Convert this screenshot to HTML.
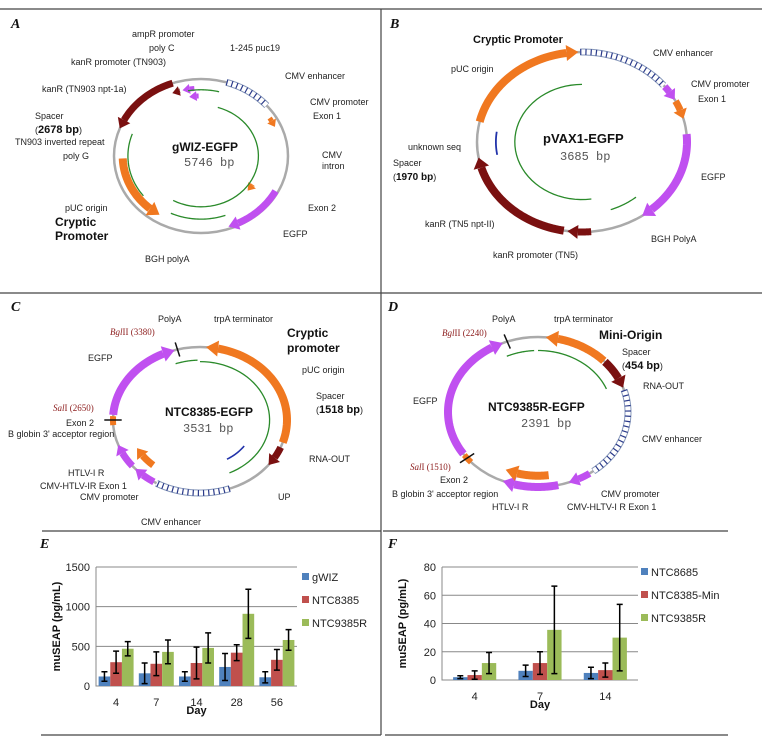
<!DOCTYPE html>
<html><head><meta charset="utf-8">
<style>
html,body{margin:0;padding:0;background:#fff;}
svg{display:block;font-family:"Liberation Sans",Arial,sans-serif;}
.l{font-size:9px;fill:#222;}
.b{font-weight:bold;fill:#111;}
.r{font-family:"Liberation Serif",serif;font-size:9px;fill:#8b1a1a;}
.m{font-family:"Liberation Mono",monospace;font-size:12px;fill:#555;}
.pl{font-family:"Liberation Serif",serif;font-weight:bold;font-style:italic;font-size:14px;fill:#111;}
</style></head>
<body>
<svg id="fig" width="773" height="743" viewBox="0 0 773 743">
<g stroke="#444" stroke-width="1.2">
<line x1="0" y1="9" x2="762" y2="9"/>
<line x1="381" y1="9" x2="381" y2="735"/>
<line x1="0" y1="293" x2="762" y2="293"/>
<line x1="42" y1="531" x2="381" y2="531"/>
<line x1="383" y1="531" x2="728" y2="531"/>
<line x1="41" y1="735" x2="381" y2="735"/>
<line x1="385" y1="735" x2="728" y2="735"/>
</g>
<text class="pl" x="11" y="28">A</text>
<text class="pl" x="390" y="28">B</text>
<text class="pl" x="11" y="311">C</text>
<text class="pl" x="388" y="311">D</text>
<text class="pl" x="40" y="548">E</text>
<text class="pl" x="388" y="548">F</text>

<g id="maps"></g>

<g>
<text class="l" x="132" y="37">ampR promoter</text>
<text class="l" x="149" y="51">poly C</text>
<text class="l" x="71" y="65">kanR promoter (TN903)</text>
<text class="l" x="230" y="51">1-245 puc19</text>
<text class="l" x="285" y="79">CMV enhancer</text>
<text class="l" x="42" y="92">kanR (TN903 npt-1a)</text>
<text class="l" x="310" y="105">CMV promoter</text>
<text class="l" x="313" y="119">Exon 1</text>
<text class="l" x="35" y="119">Spacer</text>
<text class="l" x="35" y="133">(<tspan class="b" font-size="11">2678 bp</tspan>)</text>
<text class="l" x="15" y="145">TN903 inverted repeat</text>
<text class="l" x="63" y="159">poly G</text>
<text class="l" x="322" y="158">CMV</text>
<text class="l" x="322" y="169">intron</text>
<text class="b" x="172" y="151" font-size="12">gWIZ-EGFP</text>
<text class="m" x="184" y="166">5746 bp</text>
<text class="l" x="65" y="211">pUC origin</text>
<text class="b" x="55" y="226" font-size="12">Cryptic</text>
<text class="b" x="55" y="240" font-size="12">Promoter</text>
<text class="l" x="308" y="211">Exon 2</text>
<text class="l" x="283" y="237">EGFP</text>
<text class="l" x="145" y="262">BGH polyA</text>
</g>
<g>
<text class="b" x="473" y="43" font-size="11">Cryptic Promoter</text>
<text class="l" x="653" y="56">CMV enhancer</text>
<text class="l" x="451" y="72">pUC origin</text>
<text class="l" x="691" y="87">CMV promoter</text>
<text class="l" x="698" y="102">Exon 1</text>
<text class="b" x="543" y="143" font-size="13">pVAX1-EGFP</text>
<text class="m" x="560" y="160" font-size="13">3685 bp</text>
<text class="l" x="408" y="150">unknown seq</text>
<text class="l" x="393" y="166">Spacer</text>
<text class="l" x="393" y="180">(<tspan class="b" font-size="10">1970 bp</tspan>)</text>
<text class="l" x="701" y="180">EGFP</text>
<text class="l" x="425" y="227">kanR (TN5 npt-II)</text>
<text class="l" x="651" y="242">BGH PolyA</text>
<text class="l" x="493" y="258">kanR promoter (TN5)</text>
</g>
<g>
<text class="l" x="158" y="322">PolyA</text>
<text class="l" x="214" y="322">trpA terminator</text>
<text class="r" x="110" y="335"><tspan font-style="italic">Bgl</tspan>II (3380)</text>
<text class="b" x="287" y="337" font-size="12">Cryptic</text>
<text class="b" x="287" y="352" font-size="12">promoter</text>
<text class="l" x="88" y="361">EGFP</text>
<text class="l" x="302" y="373">pUC origin</text>
<text class="l" x="316" y="399">Spacer</text>
<text class="l" x="316" y="413">(<tspan class="b" font-size="11">1518 bp</tspan>)</text>
<text class="r" x="53" y="411"><tspan font-style="italic">Sal</tspan>I (2650)</text>
<text class="b" x="165" y="416" font-size="12">NTC8385-EGFP</text>
<text class="m" x="183" y="432">3531 bp</text>
<text class="l" x="66" y="426">Exon 2</text>
<text class="l" x="8" y="437">B globin 3' acceptor region</text>
<text class="l" x="309" y="462">RNA-OUT</text>
<text class="l" x="68" y="476">HTLV-I R</text>
<text class="l" x="40" y="489">CMV-HTLV-IR Exon 1</text>
<text class="l" x="80" y="500">CMV promoter</text>
<text class="l" x="278" y="500">UP</text>
<text class="l" x="141" y="525">CMV enhancer</text>
</g>
<g>
<text class="l" x="492" y="322">PolyA</text>
<text class="l" x="554" y="322">trpA terminator</text>
<text class="r" x="442" y="336"><tspan font-style="italic">Bgl</tspan>II (2240)</text>
<text class="b" x="599" y="339" font-size="12">Mini-Origin</text>
<text class="l" x="622" y="355">Spacer</text>
<text class="l" x="622" y="369">(<tspan class="b" font-size="11">454 bp</tspan>)</text>
<text class="l" x="643" y="389">RNA-OUT</text>
<text class="l" x="413" y="404">EGFP</text>
<text class="b" x="488" y="411" font-size="12">NTC9385R-EGFP</text>
<text class="m" x="521" y="427">2391 bp</text>
<text class="l" x="642" y="442">CMV enhancer</text>
<text class="r" x="410" y="470"><tspan font-style="italic">Sal</tspan>I (1510)</text>
<text class="l" x="440" y="483">Exon 2</text>
<text class="l" x="392" y="497">B globin 3' acceptor region</text>
<text class="l" x="601" y="497">CMV promoter</text>
<text class="l" x="492" y="510">HTLV-I R</text>
<text class="l" x="567" y="510">CMV-HLTV-I R Exon 1</text>
</g>

<g id="chartE"></g>
<g id="chartF"></g>
</svg>
<script>
// ---------- Chart data ----------
const daysE = ["4","7","14","28","56"];
const seriesNamesE = ["gWIZ","NTC8385","NTC9385R"];
const gwizE = [120,160,120,240,110];
const gwizErrE = [60,130,60,170,70];
const ntc8385E = [300,280,290,420,330];
const ntc8385ErrE = [140,150,200,100,130];
const ntc9385E = [470,430,480,910,580];
const ntc9385ErrE = [90,150,190,310,130];
const ticksE = [0,500,1000,1500];

const daysF = ["4","7","14"];
const seriesNamesF = ["NTC8685","NTC8385-Min","NTC9385R"];
const ntc8685F = [2,6.5,5];
const ntc8685ErrF = [1,4,4];
const minF = [3.5,12,7];
const minErrF = [3,8,5];
const ntc9385F = [12,35.5,30];
const ntc9385ErrF = [7.5,31,23.5];
const ticksF = [0,20,40,60,80];

const NS="http://www.w3.org/2000/svg";
const COLORS=["#4f81bd","#c0504d","#9bbb59"];
function mk(parent,tag,attrs){const e=document.createElementNS(NS,tag);for(const k in attrs)e.setAttribute(k,attrs[k]);parent.appendChild(e);return e;}

function drawChart(g,cats,names,vals,errs,ticks,box,legendX,legendY,bwFrac){
  const yMax=ticks[ticks.length-1];
  const y=v=>box.y1-(v/yMax)*(box.y1-box.y0);
  const gw=(box.x1-box.x0)/cats.length;
  const bw=gw*bwFrac;
  const xg=i=>box.x0+gw*i+gw/2;
  ticks.forEach(t=>{
    if(t>0){const gl=mk(g,'line',{x1:box.x0,x2:box.x1,y1:y(t),y2:y(t),stroke:'#888','stroke-width':1});
    
    }
    const tl=mk(g,'text',{x:box.x0-6,y:y(t)+4,'text-anchor':'end','font-size':11,fill:'#222'});
    tl.textContent=t;
    
    
  });
  const ax=mk(g,'path',{d:`M${box.x0},${box.y0}V${box.y1}H${box.x1}`,stroke:'#888',fill:'none','stroke-width':1});
  
  
  cats.forEach((c,i)=>{
    const xl=mk(g,'text',{x:xg(i),y:box.y1+20,'text-anchor':'middle','font-size':11,fill:'#222'});
    xl.textContent=c;
    
    
    vals.forEach((s,j)=>{
      const cx=xg(i)+(j-1)*bw;
      const r=mk(g,'rect',{x:cx-bw/2,y:y(s[i]),width:bw,height:box.y1-y(s[i]),fill:COLORS[j]});
      
      
      const e=errs[j][i];
      const eb=mk(g,'path',{d:`M${cx},${y(s[i]+e)}V${y(Math.max(0,s[i]-e))}M${cx-3},${y(s[i]+e)}h6M${cx-3},${y(Math.max(0,s[i]-e))}h6`,stroke:'#000','stroke-width':1.5,fill:'none'});
      
      
    });
  });
  names.forEach((n,j)=>{
    const sq=mk(g,'rect',{x:legendX,y:legendY+j*23-4,width:7,height:7,fill:COLORS[j]});
    
    
    const lt=mk(g,'text',{x:legendX+10,y:legendY+j*23+4,'font-size':11,fill:'#222'});
    lt.textContent=n;
    
    
  });
  const yt=mk(g,'text',{transform:`translate(${box.x0-36},${(box.y0+box.y1)/2}) rotate(-90)`,'text-anchor':'middle','font-size':11,'font-weight':'bold',fill:'#111'});
  yt.textContent='muSEAP (pg/mL)';
  
  
  const xt=mk(g,'text',{x:(box.x0+box.x1)/2,y:box.y1+28,'text-anchor':'middle','font-size':11,'font-weight':'bold',fill:'#111'});
  xt.textContent='Day';
  
  
}
drawChart(document.getElementById('chartE'),daysE,seriesNamesE,[gwizE,ntc8385E,ntc9385E],[gwizErrE,ntc8385ErrE,ntc9385ErrE],ticksE,{x0:96,x1:297,y0:567,y1:686},302,577,0.29);
drawChart(document.getElementById('chartF'),daysF,seriesNamesF,[ntc8685F,minF,ntc9385F],[ntc8685ErrF,minErrF,ntc9385ErrF],ticksF,{x0:442,x1:638,y0:567,y1:680},641,572,0.22);

// ---------- Plasmid maps ----------
const M=document.getElementById('maps');
function pt(c,a,r){const t=a*Math.PI/180;return [c.cx+c.rx*r*Math.sin(t),c.cy-c.ry*r*Math.cos(t)];}
function arc(c,a1,a2,r,color,w,arrow,name,dash){
  let end=a2;let tri=null;
  if(arrow){const R=(c.rx+c.ry)/2*r;const L=w*1.4;const dA=L/R*180/Math.PI*Math.sign(a2-a1);end=a2-dA;
    const tip=pt(c,a2,r),b=pt(c,end,r);let tx=tip[0]-b[0],ty=tip[1]-b[1];const n=Math.hypot(tx,ty)||1;tx/=n;ty/=n;
    tri=`${b[0]-ty*w},${b[1]+tx*w} ${tip[0]},${tip[1]} ${b[0]+ty*w},${b[1]-tx*w}`;}
  const N=40;const pts=[];for(let i=0;i<=N;i++){pts.push(pt(c,a1+(end-a1)*i/N,r).join(','));}
  const a={points:pts.join(' '),fill:'none',stroke:color,'stroke-width':w};
  if(dash)a['stroke-dasharray']=dash;
  const p=mk(M,'polyline',a);
  
  
  if(tri){const t=mk(M,'polygon',{points:tri,fill:color});
    
    }
}
function hatch(c,a1,a2,name){arc(c,a1,a2,1,'#8899bb',7,false,name);arc(c,a1,a2,1,'#fff',5,false,name+'-fill');arc(c,a1,a2,1,'#2a3a8a',6,false,name+'-marks','1.2 4');}
function tick(c,a,name){const p1=pt(c,a,0.9),p2=pt(c,a,1.1);const l=mk(M,'line',{x1:p1[0],y1:p1[1],x2:p2[0],y2:p2[1],stroke:'#111','stroke-width':1.5});
  
  }
function backbone(c,name){const e=mk(M,'ellipse',{cx:c.cx,cy:c.cy,rx:c.rx,ry:c.ry,fill:'none',stroke:'#aaa','stroke-width':2.5});
  
  }
const OR='#f07820',PU='#c050f0',DR='#7a1010',GR='#2a8a2a',BL='#2233aa';

const A={cx:201,cy:156,rx:87,ry:77};
backbone(A,'backbone-a');
hatch(A,17,49,'cmv-enhancer-a');
arc(A,-19,-69,1,DR,7,true,'kanr-a');
arc(A,-92,-148,0.9,OR,8,true,'puc-origin-a');
arc(A,118,161,0.97,PU,7,true,'egfp-a');
arc(A,-5,-14,0.88,PU,5,true,'ampr-promoter-a');
arc(A,-16,-22,0.88,DR,5,true,'poly-c-a');
arc(A,-2,-10,0.78,PU,5,true,'small-a');
arc(A,58,66,0.93,OR,5,true,'exon1-a');
arc(A,122,130,0.7,OR,5,true,'exon2-a');
arc(A,17,209,0.66,GR,1.3,false,'green-arc-a1');
arc(A,-10,14,0.86,GR,1.3,false,'green-arc-a2');
arc(A,-70,-128,0.84,GR,1.3,false,'green-arc-a3');
arc(A,-155,-200,0.82,GR,1.3,false,'green-arc-a4');

const B={cx:582,cy:142,rx:105,ry:90};
backbone(B,'backbone-b');
arc(B,-77,-2,1,OR,8,true,'puc-origin-b');
hatch(B,-1,51,'cmv-enhancer-b');
arc(B,52,62,1,PU,7,true,'cmv-promoter-b');
arc(B,63,75,1,OR,7,true,'exon1-b');
arc(B,85,145,1,PU,8,true,'egfp-b');
arc(B,175,188,1,DR,7,true,'kanr-promoter-b');
arc(B,190,260,1,DR,8,true,'kanr-b');
arc(B,0,-188,0.64,GR,1.3,false,'green-arc-b1');
arc(B,160,140,0.8,GR,1.3,false,'green-arc-b2');
arc(B,-100,-82,0.82,BL,1.8,false,'unknown-seq-b');

const C={cx:200,cy:420,rx:87,ry:73};
backbone(C,'backbone-c');
hatch(C,160,210,'cmv-enhancer-c');
arc(C,108,4,1,OR,8,true,'puc-origin-c');
arc(C,112,128,1,DR,7,true,'rna-out-c');
arc(C,212,228,1,PU,7,true,'cmv-promoter-c');
arc(C,231,250,1,PU,7,true,'htlv-c');
arc(C,266,273,1,OR,6,false,'exon2-c');
arc(C,274,343,1,PU,8,true,'egfp-c');
tick(C,270,'sali-site-c');tick(C,345,'bglii-site-c');
arc(C,221,242,0.82,OR,7,true,'inner-arrow-c');
arc(C,0,155,0.8,GR,1.3,false,'green-arc-c1');
arc(C,-20,-2,0.82,GR,1.3,false,'green-arc-c2');
arc(C,150,125,0.62,BL,1.6,false,'blue-arc-c');

const D={cx:538,cy:412,rx:90,ry:75};
backbone(D,'backbone-d');
hatch(D,73,142,'cmv-enhancer-d');
arc(D,47,5,1,OR,8,true,'mini-origin-d');
arc(D,48,71,1,DR,8,true,'rna-out-d');
arc(D,145,160,1,PU,7,true,'cmv-promoter-d');
arc(D,167,203,1,PU,8,true,'htlv-d');
arc(D,228,235,1,OR,6,false,'exon2-d');
arc(D,236,337,1,PU,8,true,'egfp-d');
tick(D,232,'sali-site-d');tick(D,340,'bglii-site-d');
arc(D,172,205,0.85,OR,8,true,'inner-arrow-d');
arc(D,0,68,0.82,GR,1.3,false,'green-arc-d1');
arc(D,-25,-3,0.82,GR,1.3,false,'green-arc-d2');
</script>
</body></html>
